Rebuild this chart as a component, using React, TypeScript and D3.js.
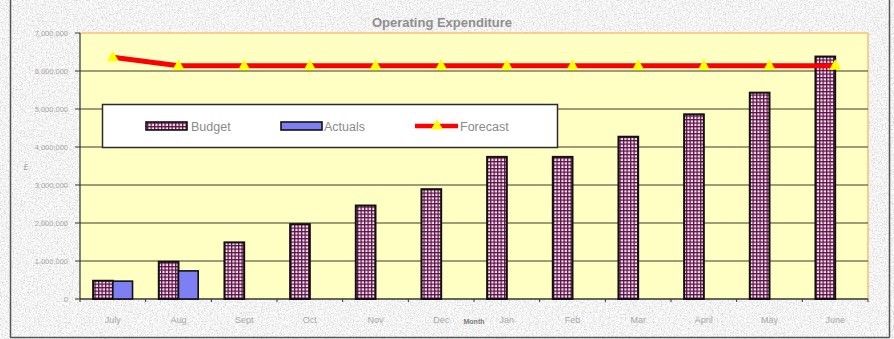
import React from "react";
import * as d3 from "d3";

const months = ["July", "Aug", "Sept", "Oct", "Nov", "Dec", "Jan", "Feb", "Mar", "April", "May", "June"];
const budget = [480000, 980000, 1490000, 1970000, 2460000, 2890000, 3740000, 3740000, 4270000, 4860000, 5430000, 6380000];
const actuals: (number | null)[] = [470000, 740000, null, null, null, null, null, null, null, null, null, null];
const forecast = [6360000, 6140000, 6140000, 6140000, 6140000, 6140000, 6140000, 6140000, 6140000, 6140000, 6140000, 6140000];
const yTicks = [0, 1000000, 2000000, 3000000, 4000000, 5000000, 6000000, 7000000];

const W = 894;
const H = 339;
const plot = { left: 80, right: 868, top: 33, bottom: 299 };
const FONT = "'Liberation Sans', Arial, sans-serif";

export default function App() {
  const x = d3.scaleBand<string>().domain(months).range([plot.left, plot.right]).paddingInner(0).paddingOuter(0);
  const y = d3.scaleLinear().domain([0, 7000000]).range([plot.bottom, plot.top]);
  const bw = x.bandwidth() * 0.3;
  const fmt = d3.format(",");
  const line = d3
    .line<number>()
    .x((_, i) => (x(months[i]) as number) + x.bandwidth() / 2)
    .y((d) => y(d));
  const tri = d3.symbol().type(d3.symbolTriangle).size(62);

  return (
    <>
      <style>{`body{margin:0}`}</style>
      <svg width={W} height={H} style={{ display: "block", fontFamily: FONT }}>
        <defs>
          <filter id="granite" x="0" y="0" width="100%" height="100%">
            <feTurbulence type="fractalNoise" baseFrequency="0.75" numOctaves="3" seed="4" result="n" />
            <feColorMatrix
              in="n"
              type="matrix"
              values="0.8 0 0 0 0.5  0.8 0 0 0 0.5  0.8 0 0 0 0.5  0 0 0 0 1"
            />
          </filter>
          <pattern id="check" width="3.5" height="3.5" patternUnits="userSpaceOnUse">
            <rect width="3.5" height="3.5" fill="#5e1044" />
            <rect x="1.3" y="1.3" width="2.2" height="2.2" fill="#f8eaf6" />
          </pattern>
        </defs>
        {/* background */}
        <rect x={0} y={0} width={W} height={H} fill="#e4e4e4" />
        <rect x={0} y={0} width={W} height={H} filter="url(#granite)" />
        {/* outer frame */}
        <line x1={10.5} y1={0} x2={10.5} y2={337.5} stroke="#555" strokeWidth={1.5} />
        <line x1={10} y1={337.5} x2={889.5} y2={337.5} stroke="#555" strokeWidth={1.5} />
        <line x1={889.5} y1={0} x2={889.5} y2={337.5} stroke="#555" strokeWidth={1.5} />

        {/* title */}
        <text x={442} y={27} textAnchor="middle" fontSize={13} fontWeight="bold" fill="#8f8f8f">
          Operating Expenditure
        </text>

        {/* plot area */}
        <rect
          x={plot.left}
          y={plot.top}
          width={plot.right - plot.left}
          height={plot.bottom - plot.top}
          fill="#ffffc4"
        />
        <line x1={plot.left} y1={plot.top} x2={plot.right} y2={plot.top} stroke="#f2c27a" strokeWidth={1.5} />
        <line x1={plot.right} y1={plot.top} x2={plot.right} y2={plot.bottom} stroke="#f2c27a" strokeWidth={1.5} />

        {/* gridlines + y ticks */}
        {yTicks.map((t) => (
          <g key={t}>
            {t > 0 && t < 7000000 && (
              <line x1={plot.left} x2={plot.right} y1={y(t)} y2={y(t)} stroke="#3c3a28" strokeWidth={1.1} />
            )}
            <line x1={plot.left - 5} x2={plot.left} y1={y(t)} y2={y(t)} stroke="#333" strokeWidth={1} />
            <text x={plot.left - 12} y={y(t) + 3} textAnchor="end" fontSize={7.5} fill="#a4a4a4">
              {fmt(t)}
            </text>
          </g>
        ))}

        {/* axes */}
        <line x1={plot.left} x2={plot.left} y1={plot.top} y2={plot.bottom} stroke="#333" strokeWidth={1.2} />
        <line x1={plot.left} x2={plot.right} y1={plot.bottom} y2={plot.bottom} stroke="#333" strokeWidth={1.5} />
        {months.map((m) => (
          <line
            key={m}
            x1={x(m) as number}
            x2={x(m) as number}
            y1={plot.bottom}
            y2={plot.bottom + 3}
            stroke="#333"
            strokeWidth={1}
          />
        ))}
        <line x1={plot.right} x2={plot.right} y1={plot.bottom} y2={plot.bottom + 3} stroke="#333" strokeWidth={1} />

        {/* bars */}
        {months.map((m, i) => {
          const c = (x(m) as number) + x.bandwidth() / 2;
          const a = actuals[i];
          return (
            <g key={m}>
              <rect
                x={c - bw}
                y={y(budget[i])}
                width={bw}
                height={y(0) - y(budget[i])}
                fill="url(#check)"
                stroke="#111"
                strokeWidth={2}
              />
              {a !== null && (
                <rect
                  x={c}
                  y={y(a)}
                  width={bw}
                  height={y(0) - y(a)}
                  fill="#7f7ff4"
                  stroke="#111"
                  strokeWidth={1.6}
                />
              )}
            </g>
          );
        })}

        {/* forecast */}
        <path d={line(forecast) as string} fill="none" stroke="#ff0000" strokeWidth={5} />
        {forecast.map((v, i) => (
          <path
            key={i}
            d={tri() as string}
            transform={`translate(${(x(months[i]) as number) + x.bandwidth() / 2},${y(v) + 0.5})`}
            fill="#ffff00"
          />
        ))}

        {/* x labels */}
        {months.map((m) => (
          <text
            key={m}
            x={(x(m) as number) + x.bandwidth() / 2}
            y={323}
            textAnchor="middle"
            fontSize={9}
            fill="#a8a8a8"
          >
            {m}
          </text>
        ))}
        <text x={474} y={324} textAnchor="middle" fontSize={7} fontWeight="bold" fill="#7a7a7a">
          Month
        </text>
        <text x={26} y={170} textAnchor="middle" fontSize={9} fill="#9a9a9a">
          £
        </text>

        {/* legend */}
        <rect x={102.5} y={104.5} width={455} height={43} fill="#ffffff" stroke="#2a2a2a" strokeWidth={1.5} />
        <rect x={146} y={122} width={41} height={8} fill="url(#check)" stroke="#111" strokeWidth={1.6} />
        <text x={191} y={131} fontSize={12.5} fill="#8a8a8a">
          Budget
        </text>
        <rect x={281} y={122} width={41} height={8} fill="#7f7ff4" stroke="#111" strokeWidth={1.6} />
        <text x={324} y={131} fontSize={12.5} fill="#8a8a8a">
          Actuals
        </text>
        <line x1={415} x2={458} y1={126} y2={126} stroke="#ff0000" strokeWidth={4.5} />
        <path d={tri() as string} transform="translate(437,126)" fill="#ffff00" />
        <text x={460} y={131} fontSize={12.5} fill="#8a8a8a">
          Forecast
        </text>
      </svg>
    </>
  );
}
